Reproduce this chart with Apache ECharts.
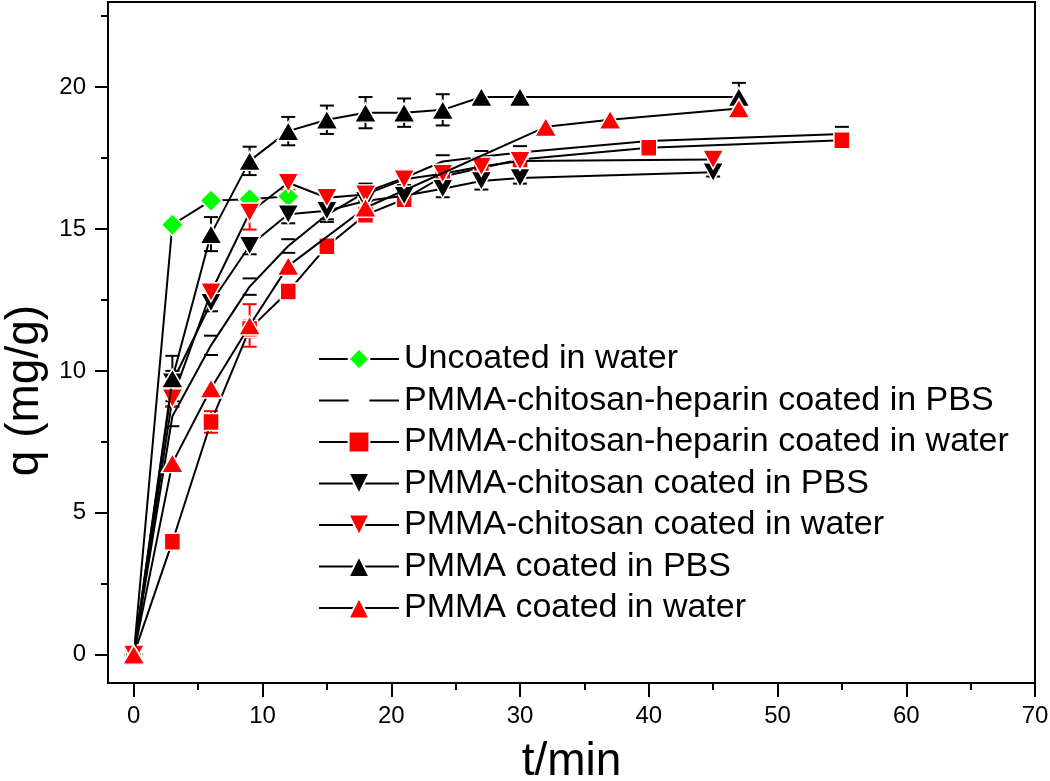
<!DOCTYPE html>
<html>
<head>
<meta charset="utf-8">
<script src="https://cdn.jsdelivr.net/npm/echarts@6/dist/echarts.min.js"></script>
<style>html,body{margin:0;padding:0;background:#fff;}#c{width:1050px;height:781px;}</style>
</head>
<body>
<div id="c"></div>
<script>
// ---- data ----
const names = [
  'Uncoated in water',
  'PMMA-chitosan-heparin coated in PBS',
  'PMMA-chitosan-heparin coated in water',
  'PMMA-chitosan coated in PBS',
  'PMMA-chitosan coated in water',
  'PMMA coated in PBS',
  'PMMA coated in water'
];
const tUncoated = [0, 3, 6, 9, 12];
const qUncoated = [0, 15.15, 16.0, 16.05, 16.15];
const eUncoated = [0, 0, 0, 0, 0];

const tHepPBS = [0, 3, 6, 9, 12, 15, 18, 21, 24, 27, 30, 40, 55];
const qHepPBS = [0, 8.4, 10.9, 12.97, 14.4, 15.5, 16.3, 16.8, 17.38, 17.55, 17.7, 18.1, 18.35];
const eHepPBS = [0, 0.35, 0.34, 0.29, 0.24, 0.25, 0.3, 0.25, 0.22, 0.2, 0.22, 0, 0.25];

const tHepW = [0, 3, 6, 9, 12, 15, 18, 21, 24, 27, 30, 40, 55];
const qHepW = [0, 3.98, 8.2, 11.48, 12.8, 14.39, 15.5, 16.05, 16.85, 17.15, 17.45, 17.86, 18.13];
const eHepW = [0, 0, 0.38, 0.3, 0, 0.15, 0, 0, 0, 0, 0, 0, 0];

const tChiPBS = [0, 3, 6, 9, 12, 15, 18, 21, 24, 27, 30, 45];
const qChiPBS = [0, 9.6, 12.4, 14.41, 15.52, 15.64, 15.99, 16.17, 16.42, 16.69, 16.8, 17.0];
const eChiPBS = [0, 0.4, 0.3, 0.3, 0.32, 0.3, 0.25, 0.25, 0.3, 0.3, 0.2, 0.15];

const tChiW = [0, 3, 6, 9, 12, 15, 18, 21, 24, 27, 30, 45];
const qChiW = [0, 9.03, 12.77, 15.58, 16.63, 16.1, 16.22, 16.75, 16.95, 17.2, 17.4, 17.45];
const eChiW = [0, 0.3, 0.2, 0.6, 0.25, 0.25, 0.25, 0.25, 0.2, 0.2, 0.2, 0.25];

const tPmPBS = [0, 3, 6, 9, 12, 15, 18, 21, 24, 27, 30, 47];
const qPmPBS = [0, 9.73, 14.82, 17.4, 18.45, 18.85, 19.1, 19.1, 19.2, 19.65, 19.65, 19.65];
const ePmPBS = [0, 0.8, 0.6, 0.5, 0.5, 0.5, 0.55, 0.5, 0.55, 0, 0, 0.5];

const tPmW = [0, 3, 6, 9, 12, 18, 32, 37, 47];
const qPmW = [0, 6.75, 9.38, 11.6, 13.7, 15.75, 18.6, 18.85, 19.25];
const ePmW = [0, 0, 0, 0.75, 0, 0, 0, 0, 0];

const xMajorTicks = [0, 10, 20, 30, 40, 50, 60, 70];
const xMinorTicks = [5, 15, 25, 35, 45, 55, 65];
const yMajorTicks = [0, 5, 10, 15, 20];
const yMinorTicks = [2.5, 7.5, 12.5, 17.5, 22.5];

// ---- build ----
const FONT = '"Liberation Sans", Arial, Helvetica, sans-serif';
function pts(t, q) { return t.map((v, i) => [v, q[i]]); }
function errPts(t, q, e) { return t.map((v, i) => [v, q[i], e[i]]); }

const defs = [
  {t: tUncoated, q: qUncoated, e: eUncoated, color: '#00ff00', symbol: 'diamond', size: [22, 22], rot: 0, caps: false},
  {t: tHepPBS, q: qHepPBS, e: eHepPBS, color: '#000000', symbol: 'none', size: 0, rot: 0, caps: true},
  {t: tHepW, q: qHepW, e: eHepW, color: '#ff0000', symbol: 'rect', size: [16, 17], rot: 0, caps: false},
  {t: tChiPBS, q: qChiPBS, e: eChiPBS, color: '#000000', symbol: 'triangle', size: [21, 19], rot: 180, caps: false},
  {t: tChiW, q: qChiW, e: eChiW, color: '#ff0000', symbol: 'triangle', size: [21, 19], rot: 180, caps: false},
  {t: tPmPBS, q: qPmPBS, e: ePmPBS, color: '#000000', symbol: 'triangle', size: [22, 19], rot: 0, caps: false},
  {t: tPmW, q: qPmW, e: ePmW, color: '#ff0000', symbol: 'triangle', size: [22, 19], rot: 0, caps: false}
];

function errRender(color, capsOnly) {
  return function (params, api) {
    const x = api.value(0), y = api.value(1), e = api.value(2);
    if (!e) return null;
    const top = api.coord([x, y + e]);
    const bot = api.coord([x, y - e]);
    const hw = 7;
    const st = {stroke: color, lineWidth: 2};
    const ch = [];
    if (!capsOnly) ch.push({type: 'line', shape: {x1: top[0], y1: top[1], x2: bot[0], y2: bot[1]}, style: st});
    ch.push({type: 'line', shape: {x1: top[0] - hw, y1: top[1], x2: top[0] + hw, y2: top[1]}, style: st});
    ch.push({type: 'line', shape: {x1: bot[0] - hw, y1: bot[1], x2: bot[0] + hw, y2: bot[1]}, style: st});
    return {type: 'group', children: ch};
  };
}

const series = [];
defs.forEach((d, i) => {
  series.push({
    type: 'custom', name: names[i] + ' err', silent: true, z: 1,
    renderItem: errRender(d.color, d.caps),
    data: errPts(d.t, d.q, d.e), encode: {x: 0, y: 1}
  });
});
defs.forEach((d, i) => {
  const isNone = d.symbol === 'none';
  series.push({
    type: 'line', name: names[i], z: 2 + i,
    data: pts(d.t, d.q),
    symbol: isNone ? 'rect' : d.symbol,
    showSymbol: !isNone,
    symbolSize: isNone ? 1 : d.size,
    symbolRotate: d.rot,
    lineStyle: {color: '#000', width: 2},
    itemStyle: isNone ? {color: '#fff', borderWidth: 0} : {color: d.color, borderColor: '#fff', borderWidth: 1.5},
    emphasis: {disabled: true}
  });
});

function tickAxis(min, max, pos, values, len) {
  return {type: 'value', min: min, max: max, position: pos,
    axisLine: {show: false, onZero: false},
    axisTick: {show: true, customValues: values, length: len, lineStyle: {color: '#000', width: 2}},
    axisLabel: {show: false}, splitLine: {show: false}};
}

const chart = echarts.init(document.getElementById('c'), null, {renderer: 'canvas'});
chart.setOption({
  animation: false,
  backgroundColor: '#fff',
  grid: {left: 108, right: 15, top: 2, bottom: 98, containLabel: false, outerBoundsMode: 'none',
         show: true, borderColor: '#000', borderWidth: 2, backgroundColor: 'transparent'},
  legend: {
    data: names, orient: 'vertical', left: 318, top: 342, padding: 0,
    itemWidth: 80, itemHeight: 26, itemGap: 7.5,
    textStyle: {fontFamily: FONT, fontSize: 34, color: '#000', lineHeight: 34},
    selectedMode: false
  },
  xAxis: [
    {type: 'value', min: -2, max: 70, position: 'bottom',
     name: 't/min', nameLocation: 'middle', nameGap: 56,
     nameTextStyle: {fontFamily: FONT, fontSize: 46, color: '#000'},
     axisLine: {show: true, onZero: false, lineStyle: {color: '#000', width: 2}},
     axisTick: {show: false},
     axisLabel: {customValues: xMajorTicks, fontFamily: FONT, fontSize: 24, color: '#000', margin: 21},
     splitLine: {show: false}},
    tickAxis(-2, 70, 'bottom', xMajorTicks, 14),
    tickAxis(-2, 70, 'bottom', xMinorTicks, 7)
  ],
  yAxis: [
    {type: 'value', min: -1, max: 23, position: 'left',
     name: 'q (mg/g)', nameLocation: 'middle', nameGap: 55,
     nameTextStyle: {fontFamily: FONT, fontSize: 46, color: '#000', padding: [0, 96, 0, 0]},
     axisLine: {show: true, onZero: false, lineStyle: {color: '#000', width: 2}},
     axisTick: {show: false},
     axisLabel: {customValues: yMajorTicks, fontFamily: FONT, fontSize: 24, color: '#000', margin: 22},
     splitLine: {show: false}},
    tickAxis(-1, 23, 'left', yMajorTicks, 13),
    tickAxis(-1, 23, 'left', yMinorTicks, 7)
  ],
  series: series
});
</script>
</body>
</html>
